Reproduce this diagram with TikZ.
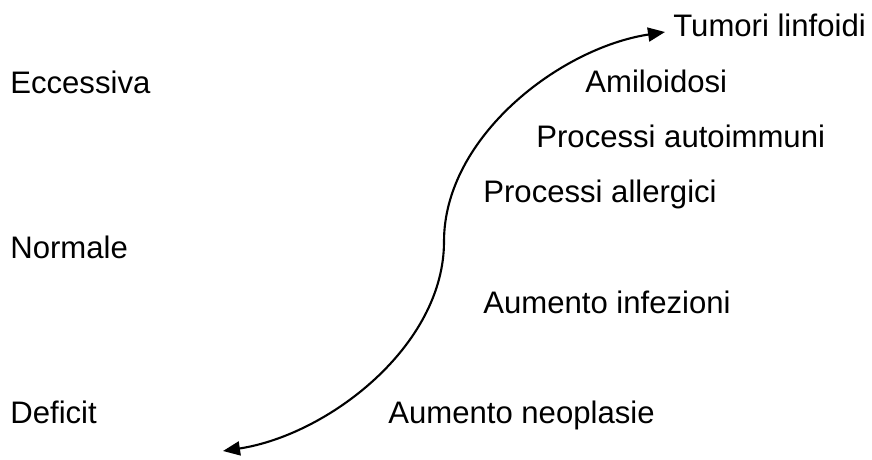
\documentclass[tikz,border=0pt]{standalone}
\usepackage{fontspec}
\setmainfont{Liberation Sans}
\usetikzlibrary{arrows.meta}

\begin{document}
\begin{tikzpicture}[voce/.style={anchor=base west, inner sep=0pt, font=\fontsize{17.7}{20}\selectfont}]
    \useasboundingbox (0,0) rectangle (17.44,-9.18);

    % livelli
    \node[voce] at (0.2,-1.86) (eccessiva) {Eccessiva};
    \node[voce] at (0.2,-5.16) (normale) {Normale};
    \node[voce] at (0.2,-8.46) (deficit) {Deficit};

    % conseguenze
    \node[voce] at (13.46,-0.734) (tumori) {Tumori linfoidi};
    \node[voce] at (11.7,-1.84) (amiloidosi) {Amiloidosi};
    \node[voce] at (10.72,-2.94) (autoimmuni) {Processi autoimmuni};
    \node[voce] at (9.66,-4.04) (allergici) {Processi allergici};
    \node[voce] at (9.66,-6.26) (infezioni) {Aumento infezioni};
    \node[voce] at (7.76,-8.46) (neoplasie) {Aumento neoplasie};

    \coordinate (basso) at (4.46,-9.02);
    \coordinate (centro) at (8.88,-4.83);
    \coordinate (alto) at (13.3,-0.64);
    \draw[line width=1.2pt, {Triangle[length=0.34cm,width=0.28cm]}-{Triangle[length=0.34cm,width=0.28cm]}]
      (basso) .. controls (6.56,-8.70) and (8.88,-6.92) .. (centro)
              .. controls (8.88,-2.74) and (11.2,-0.96) .. (alto);
\end{tikzpicture}
\end{document}
